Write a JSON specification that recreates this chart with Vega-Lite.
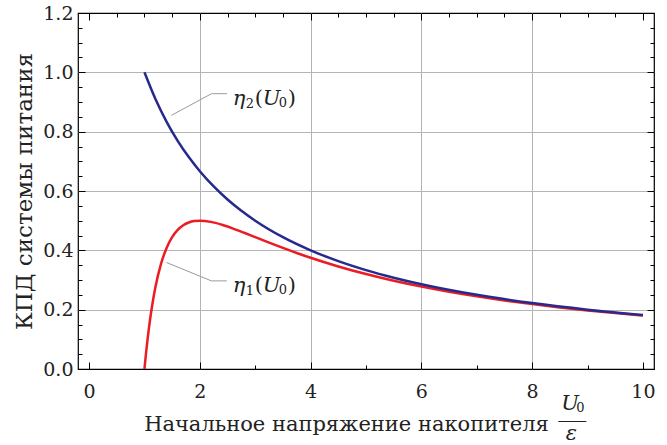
{
  "$schema": "https://vega.github.io/schema/vega-lite/v6.json",
  "width": 576,
  "height": 356,
  "autosize": {"type": "none"},
  "padding": {"left": 78, "top": 13, "right": 13, "bottom": 76},
  "background": "white",
  "config": {
    "view": {"stroke": "black", "strokeWidth": 1.2},
    "font": "DejaVu Serif",
    "axis": {"labelFont": "DejaVu Serif", "titleFont": "DejaVu Serif", "labelColor": "#222", "titleColor": "#222", "tickColor": "black", "tickWidth": 1, "gridColor": "#b4b4b4", "gridWidth": 1},
    "text": {"font": "DejaVu Serif", "color": "#222"}
  },
  "datasets": {
    "curves": [
      {"s": "η1", "x": 1, "y": 0},
      {"s": "η1", "x": 1.02, "y": 0.0385},
      {"s": "η1", "x": 1.05, "y": 0.0907},
      {"s": "η1", "x": 1.1, "y": 0.1653},
      {"s": "η1", "x": 1.15, "y": 0.2268},
      {"s": "η1", "x": 1.2, "y": 0.2778},
      {"s": "η1", "x": 1.3, "y": 0.355},
      {"s": "η1", "x": 1.4, "y": 0.4082},
      {"s": "η1", "x": 1.5, "y": 0.4444},
      {"s": "η1", "x": 1.6, "y": 0.4688},
      {"s": "η1", "x": 1.7, "y": 0.4844},
      {"s": "η1", "x": 1.8, "y": 0.4938},
      {"s": "η1", "x": 1.9, "y": 0.4986},
      {"s": "η1", "x": 2, "y": 0.5},
      {"s": "η1", "x": 2.2, "y": 0.4959},
      {"s": "η1", "x": 2.4, "y": 0.4861},
      {"s": "η1", "x": 2.6, "y": 0.4734},
      {"s": "η1", "x": 2.8, "y": 0.4592},
      {"s": "η1", "x": 3, "y": 0.4444},
      {"s": "η1", "x": 3.25, "y": 0.426},
      {"s": "η1", "x": 3.5, "y": 0.4082},
      {"s": "η1", "x": 3.75, "y": 0.3911},
      {"s": "η1", "x": 4, "y": 0.375},
      {"s": "η1", "x": 4.5, "y": 0.3457},
      {"s": "η1", "x": 5, "y": 0.32},
      {"s": "η1", "x": 5.5, "y": 0.2975},
      {"s": "η1", "x": 6, "y": 0.2778},
      {"s": "η1", "x": 6.5, "y": 0.2604},
      {"s": "η1", "x": 7, "y": 0.2449},
      {"s": "η1", "x": 7.5, "y": 0.2311},
      {"s": "η1", "x": 8, "y": 0.2188},
      {"s": "η1", "x": 8.5, "y": 0.2076},
      {"s": "η1", "x": 9, "y": 0.1975},
      {"s": "η1", "x": 9.5, "y": 0.1884},
      {"s": "η1", "x": 10, "y": 0.18},
      {"s": "η2", "x": 1, "y": 1},
      {"s": "η2", "x": 1.2, "y": 0.9091},
      {"s": "η2", "x": 1.4, "y": 0.8333},
      {"s": "η2", "x": 1.6, "y": 0.7692},
      {"s": "η2", "x": 1.8, "y": 0.7143},
      {"s": "η2", "x": 2, "y": 0.6667},
      {"s": "η2", "x": 2.25, "y": 0.6154},
      {"s": "η2", "x": 2.5, "y": 0.5714},
      {"s": "η2", "x": 2.75, "y": 0.5333},
      {"s": "η2", "x": 3, "y": 0.5},
      {"s": "η2", "x": 3.5, "y": 0.4444},
      {"s": "η2", "x": 4, "y": 0.4},
      {"s": "η2", "x": 4.5, "y": 0.3636},
      {"s": "η2", "x": 5, "y": 0.3333},
      {"s": "η2", "x": 5.5, "y": 0.3077},
      {"s": "η2", "x": 6, "y": 0.2857},
      {"s": "η2", "x": 7, "y": 0.25},
      {"s": "η2", "x": 8, "y": 0.2222},
      {"s": "η2", "x": 9, "y": 0.2},
      {"s": "η2", "x": 10, "y": 0.1818}
    ],
    "leaders": [
      {"g": "η2", "x": 1.487, "y": 0.855, "o": 1},
      {"g": "η2", "x": 2.209, "y": 0.928, "o": 2},
      {"g": "η2", "x": 2.491, "y": 0.928, "o": 3},
      {"g": "η1", "x": 1.397, "y": 0.359, "o": 1},
      {"g": "η1", "x": 2.209, "y": 0.297, "o": 2},
      {"g": "η1", "x": 2.486, "y": 0.297, "o": 3}
    ],
    "labels": [
      {"g": "η2", "x": 2.594, "y": 0.889, "sub": "2"},
      {"g": "η1", "x": 2.594, "y": 0.26, "sub": "1"}
    ],
    "frac": [
      {"x": 8.527, "y": -0.138}
    ],
    "bar": [
      {"x": 8.473, "x2": 8.978, "y": -0.177}
    ]
  },
  "layer": [
    {
      "data": {"name": "curves"},
      "mark": {"type": "line", "strokeWidth": 2.5, "interpolate": "monotone", "clip": true},
      "encoding": {
        "x": {"field": "x", "type": "quantitative",
          "scale": {"domain": [-0.2, 10.2], "nice": false, "zero": false},
          "axis": {"orient": "bottom", "values": [0, 0.5, 1, 1.5, 2, 2.5, 3, 3.5, 4, 4.5, 5, 5.5, 6, 6.5, 7, 7.5, 8, 8.5, 9, 9.5, 10],
            "format": "d", "domain": false, "grid": true,
            "gridOpacity": {"condition": {"test": "datum.value % 2 == 0 && datum.value > 0 && datum.value < 10", "value": 1}, "value": 0},
            "tickSize": {"condition": {"test": "datum.value % 2 == 0", "value": -7}, "value": -4},
            "labelExpr": "datum.value % 2 == 0 ? datum.label : ''",
            "labelFontSize": 19, "labelPadding": 35, "labelBaseline": "alphabetic",
            "title": "Начальное напряжение накопителя", "titleFontSize": 21, "titleFontWeight": "normal",
            "titleX": 268, "titleY": 61, "titleBaseline": "alphabetic", "titleAlign": "center"}},
        "y": {"field": "y", "type": "quantitative",
          "scale": {"domain": [0, 1.2], "nice": false, "zero": false},
          "axis": {"orient": "left", "values": [0, 0.05, 0.1, 0.15, 0.2, 0.25, 0.3, 0.35, 0.4, 0.45, 0.5, 0.55, 0.6, 0.65, 0.7, 0.75, 0.8, 0.85, 0.9, 0.95, 1.0, 1.05, 1.1, 1.15, 1.2],
            "format": ".1f", "domain": false, "grid": true,
            "gridOpacity": {"condition": {"test": "abs(datum.value*5 - round(datum.value*5)) < 0.0001 && datum.value > 0.01 && datum.value < 1.19", "value": 1}, "value": 0},
            "tickSize": {"condition": {"test": "abs(datum.value*5 - round(datum.value*5)) < 0.0001", "value": -7}, "value": -4},
            "labelExpr": "abs(datum.value*5 - round(datum.value*5)) < 0.0001 ? datum.label : ''",
            "labelFontSize": 19, "labelPadding": 12,
            "title": "КПД системы питания", "titleFontSize": 23, "titleFontWeight": "normal",
            "titleX": -47, "titleY": 178, "titleAngle": -90, "titleBaseline": "alphabetic", "titleAlign": "center"}},
        "color": {"field": "s", "type": "nominal", "scale": {"domain": ["η1", "η2"], "range": ["#ec1c24", "#262a8c"]}, "legend": null}
      }
    },
    {
      "data": {"name": "leaders"},
      "mark": {"type": "line", "stroke": "#9a9a9a", "strokeWidth": 1},
      "encoding": {
        "x": {"field": "x", "type": "quantitative",
          "axis": {"orient": "top", "values": [0, 0.5, 1, 1.5, 2, 2.5, 3, 3.5, 4, 4.5, 5, 5.5, 6, 6.5, 7, 7.5, 8, 8.5, 9, 9.5, 10],
            "tickSize": {"condition": {"test": "datum.value % 2 == 0", "value": -7}, "value": -4},
            "grid": false, "labels": false, "domain": false, "title": null}},
        "y": {"field": "y", "type": "quantitative",
          "axis": {"orient": "right", "values": [0, 0.05, 0.1, 0.15, 0.2, 0.25, 0.3, 0.35, 0.4, 0.45, 0.5, 0.55, 0.6, 0.65, 0.7, 0.75, 0.8, 0.85, 0.9, 0.95, 1.0, 1.05, 1.1, 1.15, 1.2],
            "tickSize": {"condition": {"test": "abs(datum.value*5 - round(datum.value*5)) < 0.0001", "value": -7}, "value": -4},
            "grid": false, "labels": false, "domain": false, "title": null}},
        "detail": {"field": "g"},
        "order": {"field": "o"}
      }
    },
    {
      "data": {"name": "labels"},
      "mark": {"type": "text", "text": "η", "align": "left", "baseline": "alphabetic", "fontSize": 21, "fontStyle": "italic"},
      "encoding": {
        "x": {"field": "x", "type": "quantitative", "axis": null},
        "y": {"field": "y", "type": "quantitative", "axis": null}
      }
    },
    {
      "data": {"name": "labels"},
      "mark": {"type": "text", "align": "left", "baseline": "alphabetic", "fontSize": 13, "dx": 13, "dy": 3},
      "encoding": {
        "x": {"field": "x", "type": "quantitative", "axis": null},
        "y": {"field": "y", "type": "quantitative", "axis": null},
        "text": {"field": "sub"}
      }
    },
    {
      "data": {"name": "labels"},
      "mark": {"type": "text", "text": "(", "align": "left", "baseline": "alphabetic", "fontSize": 21, "dx": 22},
      "encoding": {
        "x": {"field": "x", "type": "quantitative", "axis": null},
        "y": {"field": "y", "type": "quantitative", "axis": null}
      }
    },
    {
      "data": {"name": "labels"},
      "mark": {"type": "text", "text": "U", "align": "left", "baseline": "alphabetic", "fontSize": 21, "fontStyle": "italic", "dx": 30},
      "encoding": {
        "x": {"field": "x", "type": "quantitative", "axis": null},
        "y": {"field": "y", "type": "quantitative", "axis": null}
      }
    },
    {
      "data": {"name": "labels"},
      "mark": {"type": "text", "text": "0", "align": "left", "baseline": "alphabetic", "fontSize": 13, "dx": 46, "dy": 2},
      "encoding": {
        "x": {"field": "x", "type": "quantitative", "axis": null},
        "y": {"field": "y", "type": "quantitative", "axis": null}
      }
    },
    {
      "data": {"name": "labels"},
      "mark": {"type": "text", "text": ")", "align": "left", "baseline": "alphabetic", "fontSize": 21, "dx": 55},
      "encoding": {
        "x": {"field": "x", "type": "quantitative", "axis": null},
        "y": {"field": "y", "type": "quantitative", "axis": null}
      }
    },
    {
      "data": {"name": "frac"},
      "mark": {"type": "text", "text": "U", "align": "left", "baseline": "alphabetic", "fontSize": 21, "fontStyle": "italic"},
      "encoding": {
        "x": {"field": "x", "type": "quantitative", "axis": null},
        "y": {"field": "y", "type": "quantitative", "axis": null}
      }
    },
    {
      "data": {"name": "frac"},
      "mark": {"type": "text", "text": "0", "align": "left", "baseline": "alphabetic", "fontSize": 13, "dx": 15, "dy": 2},
      "encoding": {
        "x": {"field": "x", "type": "quantitative", "axis": null},
        "y": {"field": "y", "type": "quantitative", "axis": null}
      }
    },
    {
      "data": {"name": "frac"},
      "mark": {"type": "text", "text": "ε", "align": "center", "baseline": "alphabetic", "fontSize": 21, "fontStyle": "italic", "dx": 10, "dy": 30},
      "encoding": {
        "x": {"field": "x", "type": "quantitative", "axis": null},
        "y": {"field": "y", "type": "quantitative", "axis": null}
      }
    },
    {
      "data": {"name": "bar"},
      "mark": {"type": "rule", "stroke": "#222", "strokeWidth": 1},
      "encoding": {
        "x": {"field": "x", "type": "quantitative", "axis": null},
        "x2": {"field": "x2"},
        "y": {"field": "y", "type": "quantitative", "axis": null}
      }
    }
  ],
  "resolve": {"axis": {"x": "independent", "y": "independent"}}
}
